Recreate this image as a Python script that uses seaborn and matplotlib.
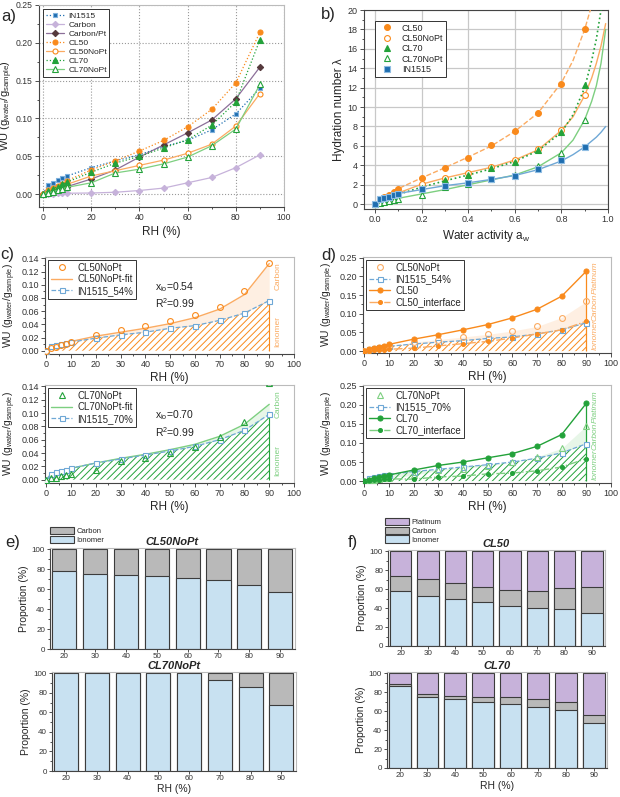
import numpy as np
import pandas as pd
import matplotlib
matplotlib.use("Agg")
import matplotlib.pyplot as plt
import seaborn as sns
from matplotlib.ticker import MultipleLocator, FormatStrFormatter
from matplotlib.patches import Patch

# --- a) water uptake vs RH ---
rh = [0, 2, 4, 6, 8, 10, 20, 30, 40, 50, 60, 70, 80, 90]
wu_in1515 = [0, 0.012, 0.015, 0.019, 0.021, 0.024, 0.035, 0.044, 0.052, 0.063, 0.071, 0.085, 0.106, 0.140]
wu_carbon = [0, 0.0005, 0.0008, 0.001, 0.001, 0.0012, 0.0015, 0.0025, 0.0048, 0.008, 0.015, 0.022, 0.035, 0.052]
wu_carbon_pt = [0, 0.002, 0.004, 0.006, 0.008, 0.010, 0.020, 0.032, 0.049, 0.065, 0.081, 0.098, 0.126, 0.168]
wu_cl50 = [0, 0.005, 0.008, 0.011, 0.014, 0.018, 0.032, 0.044, 0.057, 0.071, 0.089, 0.112, 0.147, 0.214]
wu_cl50nopt = [0, 0.004, 0.006, 0.008, 0.010, 0.013, 0.024, 0.031, 0.038, 0.045, 0.054, 0.066, 0.090, 0.133]
wu_cl70 = [0, 0.004, 0.007, 0.010, 0.013, 0.016, 0.029, 0.041, 0.050, 0.061, 0.072, 0.091, 0.122, 0.204]
wu_cl70nopt = [0, 0.002, 0.003, 0.005, 0.007, 0.009, 0.015, 0.028, 0.033, 0.040, 0.049, 0.064, 0.086, 0.145]

# --- b) hydration number vs water activity ---
aw = [0, 0.02, 0.04, 0.06, 0.08, 0.1, 0.2, 0.3, 0.4, 0.5, 0.6, 0.7, 0.8, 0.9]
lam_cl50 = [0, 0.4, 0.7, 0.95, 1.2, 1.55, 2.7, 3.75, 4.8, 6.05, 7.5, 9.4, 12.4, 18.0]
lam_cl50nopt = [0, 0.3, 0.5, 0.7, 0.85, 1.0, 2.05, 2.7, 3.25, 3.8, 4.5, 5.65, 7.6, 11.2]
lam_cl70 = [0, 0.3, 0.5, 0.7, 0.85, 1.0, 1.7, 2.5, 3.0, 3.7, 4.35, 5.55, 7.4, 12.3]
lam_cl70nopt = [0, 0.15, 0.25, 0.35, 0.45, 0.55, 0.95, 1.75, 2.1, 2.55, 3.0, 3.9, 5.25, 8.7]
lam_in1515 = [0, 0.5, 0.6, 0.75, 0.9, 1.05, 1.55, 1.85, 2.2, 2.55, 2.95, 3.6, 4.5, 5.9]
aw_fit = [0, 0.05, 0.1, 0.2, 0.3, 0.4, 0.5, 0.6, 0.7, 0.8, 0.85, 0.9, 0.93, 0.95, 0.97, 0.99]
fit_cl50 = [0, 0.85, 1.6, 2.7, 3.75, 4.85, 6.0, 7.5, 9.4, 12.5, 14.8, 18.0, 20.5, 23.0, 27.0, 32.0]
fit_cl50nopt = [0, 0.65, 1.15, 2.05, 2.7, 3.25, 3.8, 4.55, 5.6, 7.6, 9.0, 11.2, 13.0, 14.5, 16.3, 18.6]
fit_cl70 = [0, 0.55, 1.0, 1.75, 2.4, 3.0, 3.65, 4.4, 5.5, 7.4, 9.2, 12.0, 14.8, 17.0, 20.0, 24.0]
fit_cl70nopt = [0, 0.3, 0.6, 1.05, 1.5, 2.0, 2.5, 3.0, 3.85, 5.3, 6.6, 8.7, 10.6, 12.2, 14.5, 18.0]
fit_in1515 = [0, 0.75, 1.1, 1.5, 1.9, 2.2, 2.55, 2.95, 3.55, 4.45, 5.1, 5.9, 6.5, 6.9, 7.4, 8.0]

# --- c) / d) ionomer contribution ---
wu_in1515_54 = [0, 0.0065, 0.008, 0.010, 0.0115, 0.013, 0.019, 0.024, 0.028, 0.034, 0.038, 0.046, 0.057, 0.076]
wu_in1515_70 = [0, 0.0085, 0.011, 0.013, 0.015, 0.017, 0.025, 0.031, 0.037, 0.043, 0.050, 0.060, 0.074, 0.098]
fit_c50 = [0, 0.004, 0.006, 0.009, 0.011, 0.014, 0.022, 0.028, 0.034, 0.041, 0.050, 0.063, 0.085, 0.132]
fit_c70 = [0, 0.009, 0.011, 0.013, 0.015, 0.017, 0.025, 0.032, 0.038, 0.045, 0.053, 0.065, 0.083, 0.113]
wu_cl50_interface = [0, 0.001, 0.002, 0.003, 0.004, 0.005, 0.008, 0.014, 0.020, 0.026, 0.035, 0.046, 0.057, 0.080]
wu_cl70_interface = [0, 0.002, 0.003, 0.004, 0.005, 0.006, 0.005, 0.011, 0.013, 0.019, 0.021, 0.027, 0.037, 0.059]

# --- e) / f) proportions ---
bar_rh = ['20', '30', '40', '50', '60', '70', '80', '90']
e50_ionomer = [78, 75, 74, 73, 71, 69, 64, 57]
e50_carbon = [22, 25, 26, 27, 29, 31, 36, 43]
e70_ionomer = [100, 100, 100, 100, 100, 93, 86, 68]
e70_carbon = [0, 0, 0, 0, 0, 7, 14, 32]
f50_ionomer = [58, 53, 50, 46, 42, 40, 39, 35]
f50_carbon = [16.5, 17.5, 17, 16, 17, 18, 22, 27]
f50_platinum = [25.5, 29.5, 33, 38, 41, 42, 39, 38]
f70_ionomer = [87, 75.5, 72.5, 69.5, 68, 65, 61, 48]
f70_carbon = [2, 3, 3.5, 5.5, 7, 8, 8.5, 8]
f70_platinum = [11, 21.5, 24, 25, 25, 27, 30.5, 44]

# colours
BLUE = '#1f6eb0'
BLUE_L = '#6fa8d6'
PURP_L = '#c6b2da'
CPT_M = '#55393c'
CPT_L = '#8c6f99'
ORANGE = '#f98a1c'
ORANGE_L = '#fbab62'
GREEN = '#23a23a'
GREEN_L = '#7dcf80'
C_ION = '#c8e1f1'
C_CARB = '#b9b9b9'
C_PT = '#c7b2da'

sns.set_theme(style="ticks")
plt.rcParams['font.family'] = ['Liberation Sans', 'DejaVu Sans']
plt.rcParams['mathtext.default'] = 'regular'
plt.rcParams['hatch.linewidth'] = 0.7
plt.rcParams['axes.linewidth'] = 0.8

fig = plt.figure(figsize=(6.2, 7.97), dpi=100)


def box(x0, y0, x1, y1):
    return [x0 / 620, 1 - y1 / 797, (x1 - x0) / 620, (y1 - y0) / 797]


def line(ax, x, y, color, ls='-', marker=None, mfc=None, mec=None, ms=3.5, lw=0.9, z=3):
    sns.lineplot(x=x, y=y, ax=ax, color=color, linestyle=ls, marker=marker,
                 markersize=ms, markerfacecolor=color if mfc is None else mfc,
                 markeredgecolor=color if mec is None else mec, markeredgewidth=0.8,
                 linewidth=lw, zorder=z)
    return ax.lines[-1]


def style_axes(ax, fs=6.5, tl=3):
    for s in ['left', 'bottom']:
        ax.spines[s].set_color('#444444')
    for s in ['top', 'right']:
        ax.spines[s].set_color('#bbbbbb')
    ax.tick_params(which='both', direction='out', labelsize=fs, colors='#333333', width=0.6, pad=1.5)
    ax.tick_params(which='major', length=tl)
    ax.tick_params(which='minor', length=tl * 0.6)


def leg(ax, handles, labels, fs=6.5, **kw):
    lg = ax.legend(handles, labels, loc='upper left', fontsize=fs, frameon=True, fancybox=False,
                   edgecolor='#333333', framealpha=1, borderpad=0.3, labelspacing=0.15,
                   handlelength=2.2, handletextpad=0.5, **kw)
    lg.get_frame().set_linewidth(0.7)
    return lg


wu_label = r'WU (g$_{water}$/g$_{sample}$)'

# ---------------- panel a ----------------
ax = fig.add_axes(box(39, 5, 284, 207))
h = []
h.append(line(ax, rh, wu_in1515, BLUE, ':', 's', ms=3.2, mec='#7fb0dc'))
h.append(line(ax, rh, wu_carbon, PURP_L, '-', 'D', ms=3.2))
h.append(line(ax, rh, wu_carbon_pt, CPT_L, '-', 'D', mfc=CPT_M, mec=CPT_M, ms=3.2))
h.append(line(ax, rh, wu_cl50, ORANGE, ':', 'o', ms=3.6))
h.append(line(ax, rh, wu_cl50nopt, ORANGE_L, '-', 'o', mfc='white', mec=ORANGE, ms=3.6))
h.append(line(ax, rh, wu_cl70, GREEN, ':', '^', ms=3.8))
h.append(line(ax, rh, wu_cl70nopt, GREEN_L, '-', '^', mfc='white', mec=GREEN, ms=3.8))
leg(ax, h, ['IN1515', 'Carbon', 'Carbon/Pt', 'CL50', 'CL50NoPt', 'CL70', 'CL70NoPt'], fs=6)
ax.set_xlim(-1.7, 100)
ax.set_ylim(-0.017, 0.25)
ax.xaxis.set_major_locator(MultipleLocator(20))
ax.xaxis.set_minor_locator(MultipleLocator(10))
ax.yaxis.set_major_locator(MultipleLocator(0.05))
ax.yaxis.set_minor_locator(MultipleLocator(0.025))
ax.yaxis.set_major_formatter(FormatStrFormatter('%.2f'))
ax.grid(True, which='major', linestyle=':', color='#999999', linewidth=0.8)
ax.set_xlabel('RH (%)', fontsize=8.5, labelpad=3)
ax.set_ylabel(wu_label, fontsize=8, labelpad=0.5)
style_axes(ax, fs=6.2)

# ---------------- panel b ----------------
ax = fig.add_axes(box(364, 10, 608, 209))
line(ax, aw_fit, fit_cl50, ORANGE_L, '--', lw=1.0)
line(ax, aw_fit, fit_cl50nopt, ORANGE_L, '-', lw=1.0)
line(ax, aw_fit, fit_cl70, GREEN, ':', lw=1.2)
line(ax, aw_fit, fit_cl70nopt, GREEN_L, '-', lw=1.0)
line(ax, aw_fit, fit_in1515, BLUE_L, '-', lw=1.0)
h = []
h.append(line(ax, aw, lam_cl50, ORANGE, 'none', 'o', ms=4.2, z=4))
h.append(line(ax, aw, lam_cl50nopt, ORANGE, 'none', 'o', mfc='white', ms=4.2, z=4))
h.append(line(ax, aw, lam_cl70, GREEN, 'none', '^', ms=4.4, z=4))
h.append(line(ax, aw, lam_cl70nopt, GREEN, 'none', '^', mfc='white', ms=4.4, z=4))
h.append(line(ax, aw, lam_in1515, BLUE, 'none', 's', mec='#8fbde3', ms=3.8, z=4))
leg(ax, h, ['CL50', 'CL50NoPt', 'CL70', 'CL70NoPt', 'IN1515'], fs=6.5, borderaxespad=1.2)
ax.set_xlim(-0.047, 1.0)
ax.set_ylim(-0.5, 20)
ax.xaxis.set_major_locator(MultipleLocator(0.2))
ax.xaxis.set_minor_locator(MultipleLocator(0.1))
ax.xaxis.set_major_formatter(FormatStrFormatter('%.1f'))
ax.yaxis.set_major_locator(MultipleLocator(2))
ax.yaxis.set_minor_locator(MultipleLocator(1))
ax.grid(True, which='major', color='#c8c8c8', linewidth=0.9)
ax.set_xlabel(r'Water activity a$_w$', fontsize=8.5, labelpad=3)
ax.set_ylabel('Hydration number λ', fontsize=8.5, labelpad=2)
style_axes(ax)
for s in ax.spines.values():
    s.set_color('#444444')


# ---------------- panels c ----------------
def panel_c(ax, wu_np, in_x, fit, col, col_l, marker, in_lab, np_lab, xio):
    ax.fill_between(rh, 0, in_x, facecolor='none', edgecolor=col, hatch='/////', linewidth=0, zorder=1)
    ax.fill_between(rh, in_x, fit, color=col_l, alpha=0.18, linewidth=0, zorder=1)
    ax.vlines(rh[-1], 0, in_x[-1], color=col, linewidth=0.8, zorder=2)
    hf = line(ax, rh, fit, col_l, '-', lw=1.0)
    hi = line(ax, rh, in_x, BLUE_L, '--', 's', mfc='white', mec=BLUE_L, ms=3.6, lw=0.9)
    hn = line(ax, rh, wu_np, col, 'none', marker, mfc='none', mec=col, ms=4.2, z=4)
    leg(ax, [hn, hf, hi], [np_lab, np_lab + '-fit', in_lab], fs=7, borderaxespad=0.3)
    ax.text(44, 0.097, 'x$_{io}$=' + xio, fontsize=7.5, color='#222222', va='center')
    ax.text(44, 0.072, 'R$^2$=0.99', fontsize=7.5, color='#222222', va='center')
    ax.text(93.5, 0.005, 'Ionomer', rotation=90, fontsize=6, color=col_l, ha='center', va='bottom')
    ax.text(93.5, 0.092, 'Carbon', rotation=90, fontsize=6, color=col_l, ha='center', va='bottom')
    ax.set_xlim(-0.5, 100)
    ax.set_ylim(-0.005, 0.142)
    ax.xaxis.set_major_locator(MultipleLocator(10))
    ax.xaxis.set_minor_locator(MultipleLocator(5))
    ax.yaxis.set_major_locator(MultipleLocator(0.02))
    ax.yaxis.set_minor_locator(MultipleLocator(0.01))
    ax.yaxis.set_major_formatter(FormatStrFormatter('%.2f'))
    ax.set_xlabel('RH (%)', fontsize=8.5, labelpad=2)
    ax.set_ylabel(wu_label, fontsize=7.5, labelpad=2)
    style_axes(ax, fs=6.5)


panel_c(fig.add_axes(box(45, 257, 294, 354)), wu_cl50nopt, wu_in1515_54, fit_c50, ORANGE, ORANGE_L, 'o',
        'IN1515_54%', 'CL50NoPt', '0.54')
panel_c(fig.add_axes(box(45, 385, 294, 483)), wu_cl70nopt, wu_in1515_70, fit_c70, GREEN, GREEN_L, '^',
        'IN1515_70%', 'CL70NoPt', '0.70')


# ---------------- panels d ----------------
def panel_d(ax, wu_cl, wu_np, in_x, wu_int, col, col_l, marker, in_lab, np_lab, cl_lab):
    ax.fill_between(rh, 0, in_x, facecolor='none', edgecolor=col, hatch='/////', linewidth=0, zorder=1)
    ax.fill_between(rh, in_x, wu_np, color=col_l, alpha=0.18, linewidth=0, zorder=1)
    ax.vlines(rh[-1], 0, wu_cl[-1], color=col, linewidth=0.9, zorder=2)
    hi = line(ax, rh, in_x, BLUE_L, '--', 's', mfc='white', mec=BLUE_L, ms=3.6, lw=0.9)
    hn = line(ax, rh, wu_np, col_l, 'none', marker, mfc='none', mec=col_l, ms=4.2, z=4)
    hc = line(ax, rh, wu_cl, col, '-', 'o', ms=3.6, lw=1.0, z=4)
    ht = line(ax, rh, wu_int, col_l, '-.', 'o', mfc=col, mec=col, ms=2.8, lw=1.0, z=4)
    leg(ax, [hn, hi, hc, ht], [np_lab, in_lab, cl_lab, cl_lab + '_interface'], fs=7, borderaxespad=0.3)
    for txt, y0 in [('Ionomer', 0.003), ('Carbon', 0.082), ('Platinum', 0.152)]:
        ax.text(93.5, y0, txt, rotation=90, fontsize=6, color=col_l, ha='center', va='bottom',
                fontstyle='italic')
    ax.set_xlim(-0.5, 100)
    ax.set_ylim(-0.005, 0.252)
    ax.xaxis.set_major_locator(MultipleLocator(10))
    ax.xaxis.set_minor_locator(MultipleLocator(5))
    ax.yaxis.set_major_locator(MultipleLocator(0.05))
    ax.yaxis.set_minor_locator(MultipleLocator(0.025))
    ax.yaxis.set_major_formatter(FormatStrFormatter('%.2f'))
    ax.set_xlabel('RH (%)', fontsize=8.5, labelpad=2)
    ax.set_ylabel(wu_label, fontsize=7.5, labelpad=2)
    style_axes(ax, fs=6.5)


panel_d(fig.add_axes(box(363, 257, 611, 353)), wu_cl50, wu_cl50nopt, wu_in1515_54, wu_cl50_interface,
        ORANGE, ORANGE_L, 'o', 'IN1515_54%', 'CL50NoPt', 'CL50')
panel_d(fig.add_axes(box(363, 385, 611, 483)), wu_cl70, wu_cl70nopt, wu_in1515_70, wu_cl70_interface,
        GREEN, GREEN_L, '^', 'IN1515_70%', 'CL70NoPt', 'CL70')


# ---------------- panels e / f ----------------
def panel_bars(ax, layers, title, xlabel):
    df = pd.DataFrame({name: vals for name, vals, _ in layers}, index=bar_rh)
    cum = df.cumsum(axis=1)
    # draw from the top of the stack down so each layer covers the one above it
    for name, _, col in reversed(layers):
        sns.barplot(x=bar_rh, y=cum[name].values, color=col, saturation=1, width=0.78,
                    edgecolor='#3c3c3c', linewidth=0.8, errorbar=None, ax=ax)
    ax.set_xlim(-0.46, 7.48)
    ax.set_ylim(0, 101.5)
    ax.yaxis.set_major_locator(MultipleLocator(20))
    ax.yaxis.set_minor_locator(MultipleLocator(10))
    ax.text(0.5, 1.012, title, transform=ax.transAxes, fontsize=8, fontweight='bold',
            fontstyle='italic', ha='center', va='bottom')
    ax.set_ylabel('Proportion (%)', fontsize=7.5, labelpad=2)
    ax.set_xlabel(xlabel, fontsize=7.5, labelpad=1)
    style_axes(ax, fs=5.8, tl=2)
    ax.tick_params(axis='x', pad=1)


panel_bars(fig.add_axes(box(50, 548, 295, 649)),
           [('Ionomer', e50_ionomer, C_ION), ('Carbon', e50_carbon, C_CARB)], 'CL50NoPt', '')
panel_bars(fig.add_axes(box(52, 672, 296, 771)),
           [('Ionomer', e70_ionomer, C_ION), ('Carbon', e70_carbon, C_CARB)], 'CL70NoPt', 'RH (%)')
panel_bars(fig.add_axes(box(388, 550, 605, 646)),
           [('Ionomer', f50_ionomer, C_ION), ('Carbon', f50_carbon, C_CARB),
            ('Platinum', f50_platinum, C_PT)], 'CL50', '')
panel_bars(fig.add_axes(box(387, 672, 607, 768)),
           [('Ionomer', f70_ionomer, C_ION), ('Carbon', f70_carbon, C_CARB),
            ('Platinum', f70_platinum, C_PT)], 'CL70', 'RH (%)')


def bar_legend(names, cols, x, y):
    hs = [Patch(facecolor=c, edgecolor='#3c3c3c', linewidth=0.8) for c in cols]
    lg = fig.legend(hs, names, loc='upper left', bbox_to_anchor=(x / 620, 1 - y / 797), fontsize=5.5,
                    frameon=False, borderpad=0, labelspacing=0.05, handlelength=3.2, handleheight=1.1,
                    handletextpad=0.3, borderaxespad=0)
    return lg


bar_legend(['Carbon', 'Ionomer'], [C_CARB, C_ION], 50, 527)
bar_legend(['Platinum', 'Carbon', 'Ionomer'], [C_PT, C_CARB, C_ION], 385, 518)

# panel letters
for lab, x, y in [('a)', 1, 16), ('b)', 321, 14), ('c)', 0, 254), ('d)', 321, 256),
                  ('e)', 5, 543), ('f)', 348, 542)]:
    fig.text(x / 620, 1 - y / 797, lab, fontsize=12, va='center', ha='left')

fig.savefig('out.png', dpi=100)
